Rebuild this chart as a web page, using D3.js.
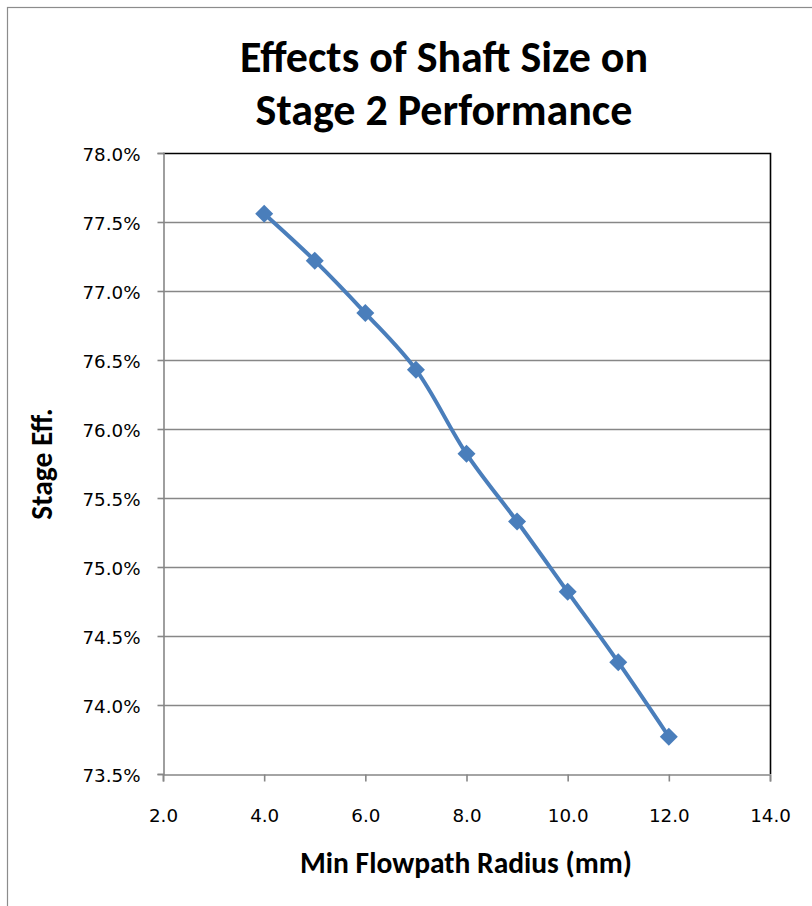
<!DOCTYPE html>
<html>
<head>
<meta charset="utf-8">
<script src="https://cdn.jsdelivr.net/npm/d3@7"></script>
<style>
  html, body { margin: 0; padding: 0; background: #fff; }
  svg { display: block; }
  text { font-family: Carlito, Calibri, Lato, sans-serif; }
</style>
</head>
<body>
<script>
// Stage efficiency vs. minimum flowpath radius
const radius = [4, 5, 6, 7, 8, 9, 10, 11, 12];
const efficiency = [77.56, 77.22, 76.84, 76.43, 75.82, 75.33, 74.82, 74.31, 73.77];
const xTicks = [2, 4, 6, 8, 10, 12, 14];
const yTicks = [73.5, 74.0, 74.5, 75.0, 75.5, 76.0, 76.5, 77.0, 77.5, 78.0];
const titleLines = ["Effects of Shaft Size on", "Stage 2 Performance"];
const xTitle = "Min Flowpath Radius (mm)";
const yTitle = "Stage Eff.";

const W = 812, H = 906;
const plot = { left: 163, right: 770, top: 153, bottom: 774 };
const tickFont = "'DejaVu Sans', Verdana, sans-serif";
const gridColor = "#878787";

const svg = d3.select("body").append("svg").attr("width", W).attr("height", H);

// outer chart frame
svg.append("rect")
  .attr("x", 7.5).attr("y", 7.5)
  .attr("width", 900).attr("height", 1000)
  .attr("fill", "#fff").attr("stroke", "#8c8c8c").attr("stroke-width", 1.2);

const x = d3.scaleLinear().domain([2, 14]).range([plot.left, plot.right]);
const y = d3.scaleLinear().domain([73.5, 78.0]).range([plot.bottom, plot.top]);

// horizontal gridlines
svg.append("g").selectAll("line")
  .data(yTicks.filter(v => v > 73.5 && v < 78.0))
  .join("line")
  .attr("x1", plot.left).attr("x2", plot.right)
  .attr("y1", d => Math.round(y(d)) + 0.5).attr("y2", d => Math.round(y(d)) + 0.5)
  .attr("stroke", gridColor).attr("stroke-width", 1.6);

// plot area top and right border
svg.append("path")
  .attr("d", `M${plot.left},${plot.top + 0.5}H${plot.right + 0.5}V${plot.bottom}`)
  .attr("fill", "none").attr("stroke", "#000").attr("stroke-width", 1.6);

// y axis
const yAxis = svg.append("g")
  .attr("transform", `translate(${plot.left + 0.5},0)`)
  .call(d3.axisLeft(y).tickValues(yTicks).tickSize(6).tickPadding(17)
    .tickFormat(d => d.toFixed(1) + "%"));
yAxis.select(".domain").attr("stroke", gridColor).attr("stroke-width", 1.6);
yAxis.selectAll(".tick line").attr("stroke", gridColor).attr("stroke-width", 1.6);
yAxis.selectAll(".tick text")
  .attr("font-size", 18.3).attr("fill", "#000").attr("dy", "0.4em")
  .style("font-family", tickFont);

// x axis
const xAxis = svg.append("g")
  .attr("transform", `translate(0,${plot.bottom + 0.5})`)
  .call(d3.axisBottom(x).tickValues(xTicks).tickSize(7).tickPadding(28)
    .tickFormat(d => d.toFixed(1)));
xAxis.select(".domain").attr("stroke", gridColor).attr("stroke-width", 1.6);
xAxis.selectAll(".tick line").attr("stroke", gridColor).attr("stroke-width", 1.6);
xAxis.selectAll(".tick text")
  .attr("font-size", 18.3).attr("fill", "#000")
  .style("font-family", tickFont);

// smoothed series line
const pts = radius.map((r, i) => [r, efficiency[i]]);
const line = d3.line()
  .x(d => x(d[0])).y(d => y(d[1]))
  .curve(d3.curveCatmullRom.alpha(0.5));
svg.append("path")
  .datum(pts)
  .attr("d", line)
  .attr("fill", "none")
  .attr("stroke", "#4a7ebb")
  .attr("stroke-width", 4)
  .attr("stroke-linejoin", "round");

// diamond markers
const m = 9;
svg.append("g").selectAll("path")
  .data(pts)
  .join("path")
  .attr("transform", d => `translate(${x(d[0])},${y(d[1])})`)
  .attr("d", `M0,${-m}L${m},0L0,${m}L${-m},0Z`)
  .attr("fill", "#4a7ebb");

// title
svg.append("g").selectAll("text")
  .data(titleLines)
  .join("text")
  .attr("x", 444).attr("y", (d, i) => 72 + i * 53)
  .attr("text-anchor", "middle")
  .attr("font-size", 44).attr("font-weight", "bold")
  .attr("fill", "#000")
  .text(d => d);

// axis titles
svg.append("text")
  .attr("x", 466).attr("y", 873)
  .attr("text-anchor", "middle")
  .attr("font-size", 29.5).attr("font-weight", "bold")
  .text(xTitle);

svg.append("text")
  .attr("transform", "translate(52,464) rotate(-90)")
  .attr("text-anchor", "middle")
  .attr("font-size", 29.5).attr("font-weight", "bold")
  .text(yTitle);
</script>
</body>
</html>
